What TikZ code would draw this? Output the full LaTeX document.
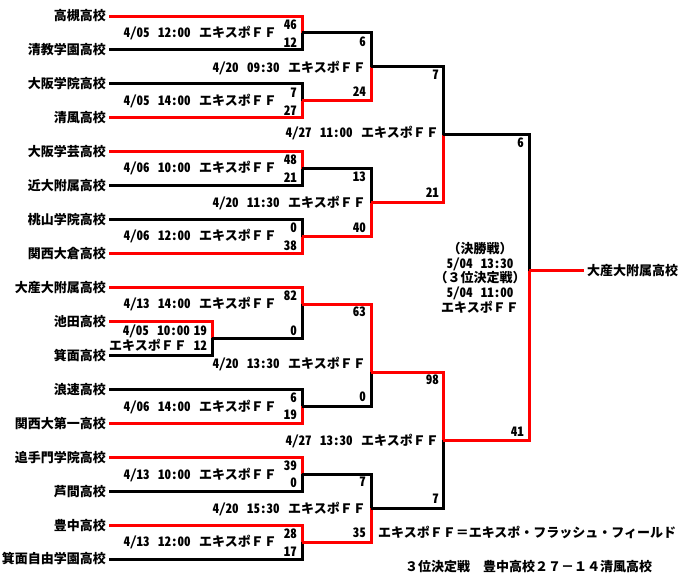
\documentclass[tikz,border=0pt]{standalone}
\usepackage{fontspec}
\setmainfont{Noto Sans CJK JP}
\newfontfamily\hw{Noto Sans CJK JP}[RawFeature=+hwid]
\definecolor{wred}{RGB}{255,0,0}
\pgfmathdeclarefunction{ry}{1}{\pgfmathparse{16+33.94*#1}}
\newcommand{\gp}{\hspace{8.5pt}}
\newcommand{\ef}{エキスポＦＦ}
\newcommand{\dd}[2]{{\hw #1}\gp{\hw #2}\gp\ef}
\begin{document}
\begin{tikzpicture}[x=1pt,y=-1pt,
  txt/.style={inner sep=0pt, font=\bfseries\fontsize{13}{15}\selectfont, text height=11.4pt, text depth=1.6pt},
  team/.style={txt, anchor=east},
  sc/.style={txt, anchor=east, font=\hw\bfseries\fontsize{13}{15}\selectfont},
  dt/.style={txt, anchor=east},
  note/.style={txt, anchor=west},
  win/.style={draw=wred, line width=3pt},
  los/.style={draw=black, line width=3pt}]
\fill[white] (0,0) rectangle (684,576);
\useasboundingbox (0,0) rectangle (684,576);

% teams
\node[team] (t0) at (106,{ry(0)}) {高槻高校};
\node[team] (t1) at (106,{ry(1)}) {清教学園高校};
\node[team] (t2) at (106,{ry(2)}) {大阪学院高校};
\node[team] (t3) at (106,{ry(3)}) {清風高校};
\node[team] (t4) at (106,{ry(4)}) {大阪学芸高校};
\node[team] (t5) at (106,{ry(5)}) {近大附属高校};
\node[team] (t6) at (106,{ry(6)}) {桃山学院高校};
\node[team] (t7) at (106,{ry(7)}) {関西大倉高校};
\node[team] (t8) at (106,{ry(8)}) {大産大附属高校};
\node[team] (t9) at (106,{ry(9)}) {池田高校};
\node[team] (t10) at (106,{ry(10)}) {箕面高校};
\node[team] (t11) at (106,{ry(11)}) {浪速高校};
\node[team] (t12) at (106,{ry(12)}) {関西大第一高校};
\node[team] (t13) at (106,{ry(13)}) {追手門学院高校};
\node[team] (t14) at (106,{ry(14)}) {芦間高校};
\node[team] (t15) at (106,{ry(15)}) {豊中高校};
\node[team] (t16) at (106,{ry(16)}) {箕面自由学園高校};
\node[txt, anchor=west] (ch) at (587,{ry(7.5)}) {大産大附属高校};

% junctions
\coordinate (j0) at (302,{ry(0.5)});
\coordinate (j1) at (302,{ry(2.5)});
\coordinate (j2) at (302,{ry(4.5)});
\coordinate (j3) at (302,{ry(6.5)});
\coordinate (j4) at (302,{ry(8.5)});
\coordinate (ji) at (212,{ry(9.5)});
\coordinate (j5) at (302,{ry(11.5)});
\coordinate (j6) at (302,{ry(13.5)});
\coordinate (j7) at (302,{ry(15.5)});
\coordinate (k0) at (371,{ry(1.5)});
\coordinate (k1) at (371,{ry(5.5)});
\coordinate (k2) at (371,{ry(10.5)});
\coordinate (k3) at (371,{ry(14.5)});
\coordinate (s0) at (443,{ry(3.5)});
\coordinate (s1) at (443,{ry(12.5)});
\coordinate (f) at (529,{ry(7.5)});

% round 1
\draw[win] ([xshift=3pt]t0.east) -| (j0);
\draw[los] ([xshift=3pt]t1.east) -| (j0);
\draw[los] ([xshift=3pt]t2.east) -| (j1);
\draw[win] ([xshift=3pt]t3.east) -| (j1);
\draw[win] ([xshift=3pt]t4.east) -| (j2);
\draw[los] ([xshift=3pt]t5.east) -| (j2);
\draw[los] ([xshift=3pt]t6.east) -| (j3);
\draw[win] ([xshift=3pt]t7.east) -| (j3);
\draw[win] ([xshift=3pt]t9.east) -| (ji);
\draw[los] ([xshift=3pt]t10.east) -| (ji);
\draw[win] ([xshift=3pt]t8.east) -| (j4);
\draw[los] (ji) -| (j4);
\draw[los] ([xshift=3pt]t11.east) -| (j5);
\draw[win] ([xshift=3pt]t12.east) -| (j5);
\draw[win] ([xshift=3pt]t13.east) -| (j6);
\draw[los] ([xshift=3pt]t14.east) -| (j6);
\draw[win] ([xshift=3pt]t15.east) -| (j7);
\draw[los] ([xshift=3pt]t16.east) -| (j7);
% round 2
\draw[los] (j0) -| (k0);
\draw[win] (j1) -| (k0);
\draw[los] (j2) -| (k1);
\draw[win] (j3) -| (k1);
\draw[win] (j4) -| (k2);
\draw[los] (j5) -| (k2);
\draw[los] (j6) -| (k3);
\draw[win] (j7) -| (k3);
% semis
\draw[los] (k0) -| (s0);
\draw[win] (k1) -| (s0);
\draw[win] (k2) -| (s1);
\draw[los] (k3) -| (s1);
% final
\draw[los] (s0) -| (f);
\draw[win] (s1) -| (f);
\draw[win] (f) -- ([xshift=-3pt]ch.west);

% scores round 1
\node[sc] (a1) at (297,25) {46};
\node[sc] (a2) at (297,43) {12};
\node[sc] (a3) at (297,93) {7};
\node[sc] (a4) at (297,111) {27};
\node[sc] (a5) at (297,160) {48};
\node[sc] (a6) at (297,178) {21};
\node[sc] (a7) at (297,228) {0};
\node[sc] (a8) at (297,246) {38};
\node[sc] (a9) at (297,296) {82};
\node[sc] (a10) at (297,331) {0};
\node[sc] (a11) at (297,398) {6};
\node[sc] (a12) at (297,415) {19};
\node[sc] (a13) at (297,466) {39};
\node[sc] (a14) at (297,483) {0};
\node[sc] (a15) at (297,534) {28};
\node[sc] (a16) at (297,552) {17};
\node[sc] (a17) at (207,331) {19};
\node[sc] (a18) at (207,346) {12};
% scores round 2
\node[sc] (b1) at (366,42) {6};
\node[sc] (b2) at (366,92) {24};
\node[sc] (b3) at (366,177) {13};
\node[sc] (b4) at (366,228) {40};
\node[sc] (b5) at (366,312) {63};
\node[sc] (b6) at (366,397) {0};
\node[sc] (b7) at (366,482) {7};
\node[sc] (b8) at (366,533) {35};
% semis
\node[sc] (c1) at (439,75) {7};
\node[sc] (c2) at (439,193) {21};
\node[sc] (c3) at (439,380) {98};
\node[sc] (c4) at (439,499) {7};
% final
\node[sc] (d1) at (524,143) {6};
\node[sc] (d2) at (524,432) {41};

% dates
\node[dt] (e1) at (277,33) {\dd{4/05}{12:00}};
\node[dt] (e2) at (277,101) {\dd{4/05}{14:00}};
\node[dt] (e3) at (277,168) {\dd{4/06}{10:00}};
\node[dt] (e4) at (277,236) {\dd{4/06}{12:00}};
\node[dt] (e5) at (277,304) {\dd{4/13}{14:00}};
\node[dt] (e6) at (277,407) {\dd{4/06}{14:00}};
\node[dt] (e7) at (277,475) {\dd{4/13}{10:00}};
\node[dt] (e8) at (277,542) {\dd{4/13}{12:00}};
\node[dt] (e9) at (190,331) {{\hw 4/05}\gp{\hw 10:00}};
\node[dt] (e10) at (187,346) {\ef};
\node[dt] (g1) at (366,68) {\dd{4/20}{09:30}};
\node[dt] (g2) at (366,203) {\dd{4/20}{11:30}};
\node[dt] (g3) at (366,364) {\dd{4/20}{13:30}};
\node[dt] (g4) at (366,509) {\dd{4/20}{15:30}};
\node[dt] (h1) at (439,133) {\dd{4/27}{11:00}};
\node[dt] (h2) at (439,441) {\dd{4/27}{13:30}};

% final info block
\node[txt] (m1) at (480,249) {（決勝戦）};
\node[txt] (m2) at (480,264) {{\hw 5/04}\gp{\hw 13:30}};
\node[txt] (m3) at (480,278) {（３位決定戦）};
\node[txt] (m4) at (480,293) {{\hw 5/04}\gp{\hw 11:00}};
\node[txt] (m5) at (480,308) {\ef};

% notes
\node[note] (n1) at (378,533) {エキスポＦＦ＝エキスポ・フラッシュ・フィールド};
\node[note] (n2) at (405,567) {３位決定戦　豊中高校２７－１４清風高校};
\end{tikzpicture}
\end{document}
